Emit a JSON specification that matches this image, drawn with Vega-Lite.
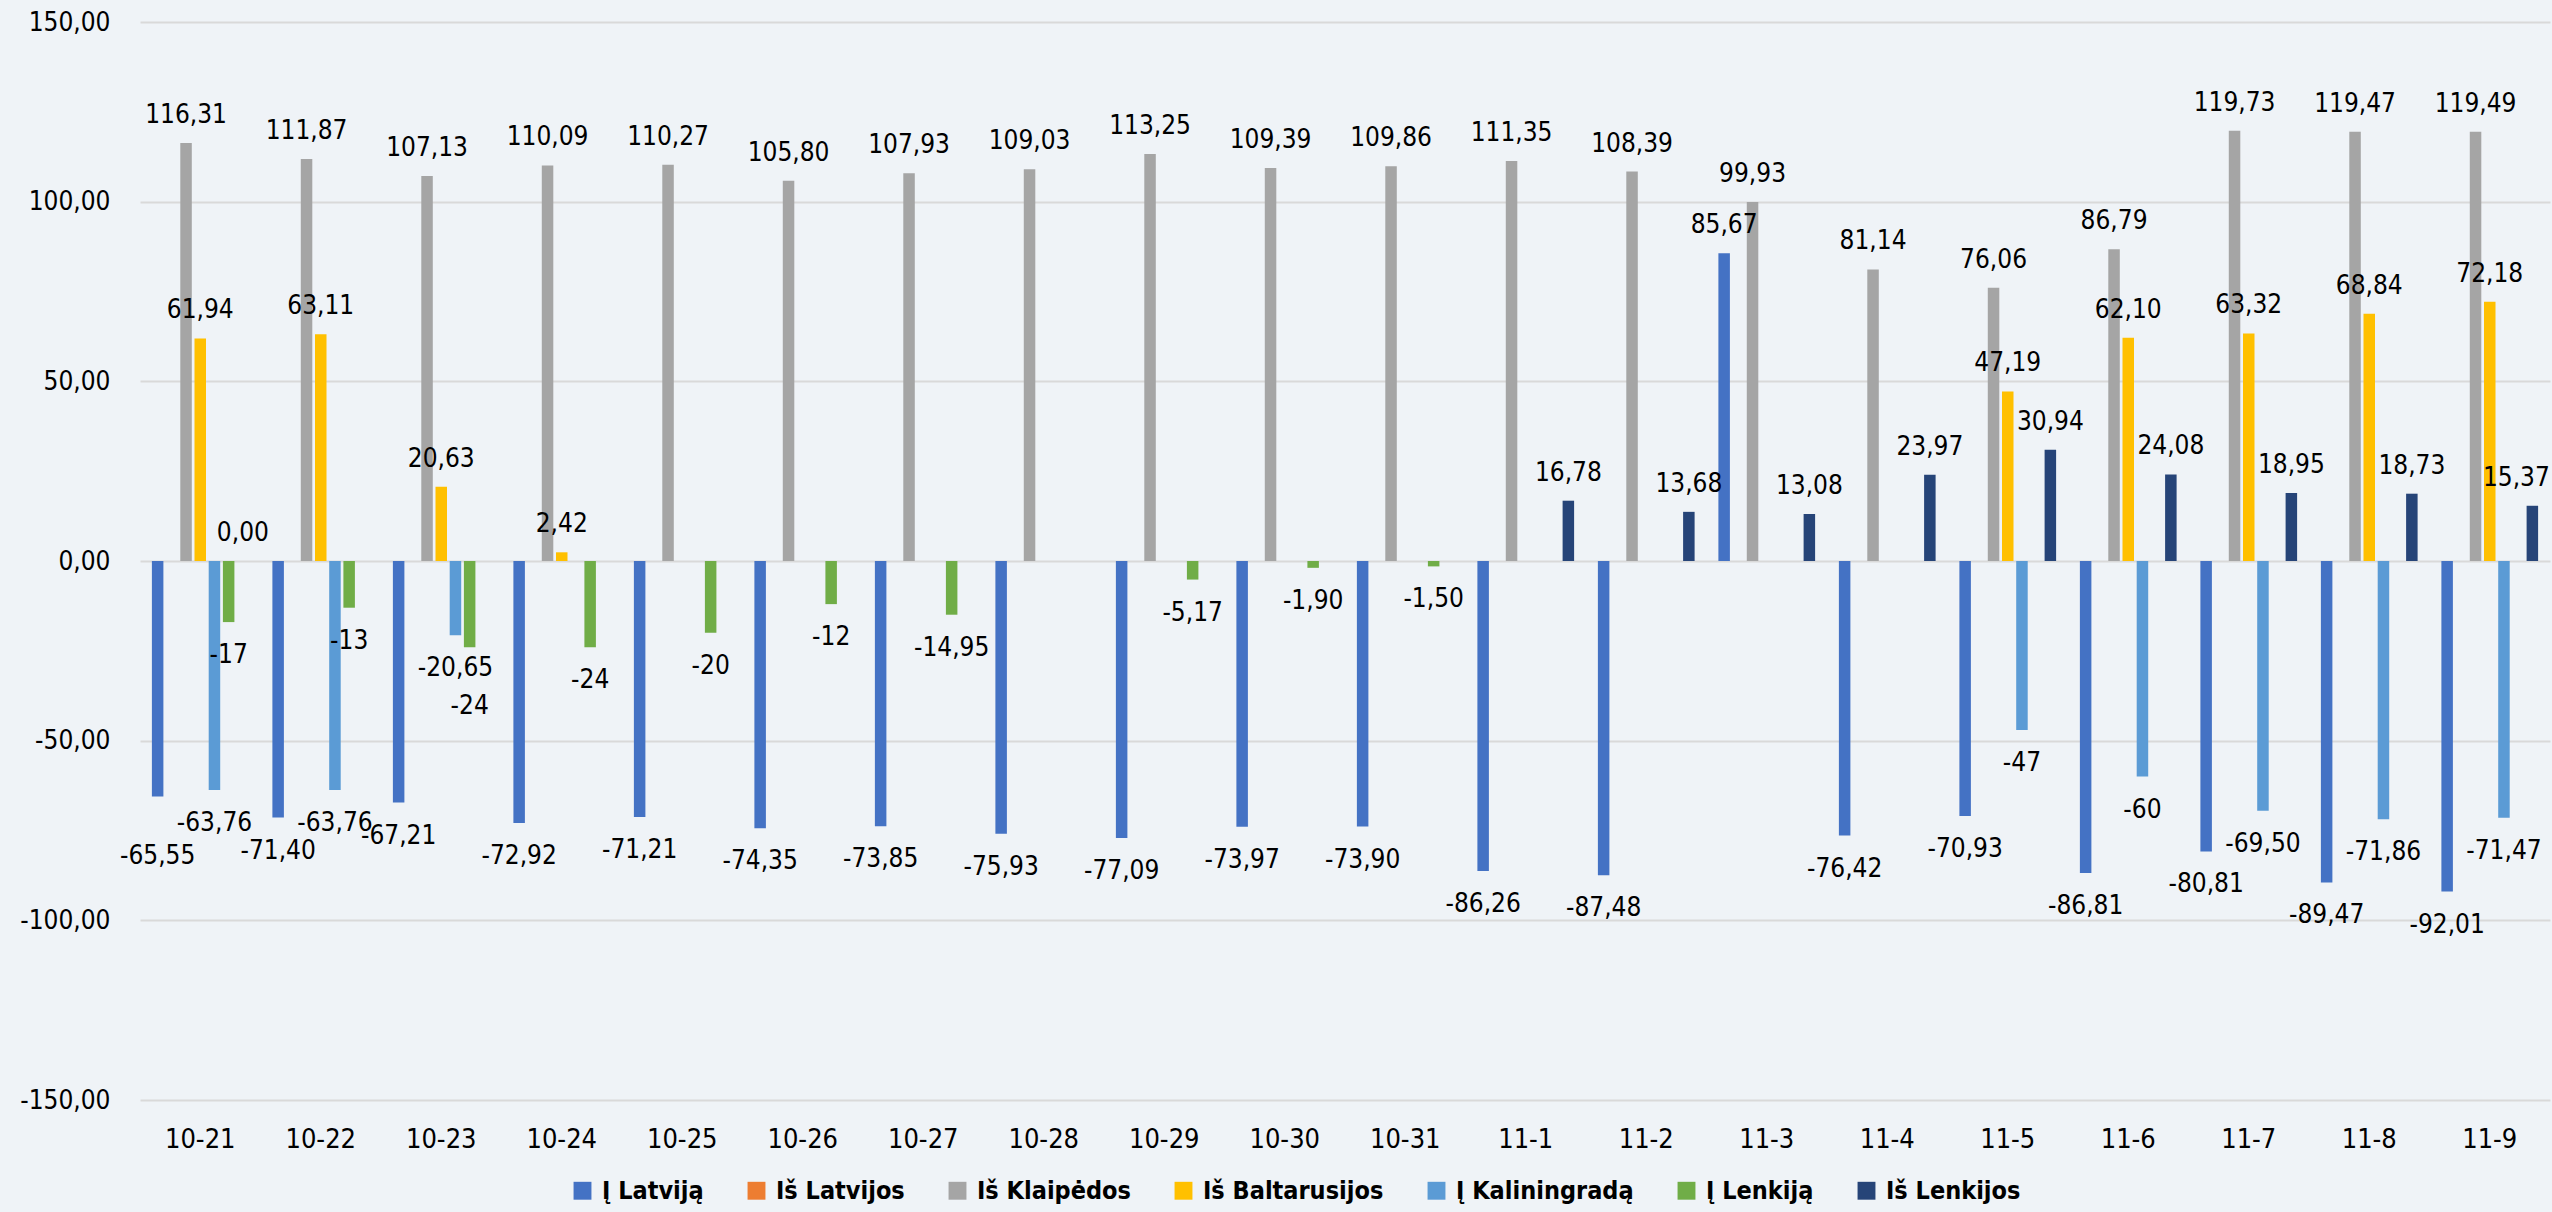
{
  "$schema": "https://vega.github.io/schema/vega-lite/v6.json",
  "autosize": "none",
  "width": 2410,
  "height": 1078,
  "padding": {"left": 140, "top": 22, "right": 2, "bottom": 112},
  "background": "#EFF3F7",
  "config": {
    "view": {"stroke": null},
    "locale": {"number": {"decimal": ",", "thousands": " ", "grouping": [3], "currency": ["", ""], "minus": "-"}},
    "font": "Liberation Sans Narrow, DejaVu Sans Condensed, DejaVu Sans",
    "axis": {"labelFont": "Liberation Sans Narrow, DejaVu Sans Condensed, DejaVu Sans", "labelColor": "#000000"},
    "legend": {"labelFont": "Liberation Sans Narrow, DejaVu Sans Condensed, DejaVu Sans"}
  },
  "data": {"values": [
    {"d": "10-21", "s": "Į Latviją", "v": -65.55, "t": "-65,55"},
    {"d": "10-21", "s": "Iš Klaipėdos", "v": 116.31, "t": "116,31"},
    {"d": "10-21", "s": "Iš Baltarusijos", "v": 61.94, "t": "61,94"},
    {"d": "10-21", "s": "Į Kaliningradą", "v": -63.76, "t": "-63,76"},
    {"d": "10-21", "s": "Į Lenkiją", "v": -17, "t": "-17"},
    {"d": "10-21", "s": "Iš Lenkijos", "v": 0, "t": "0,00"},
    {"d": "10-22", "s": "Į Latviją", "v": -71.40, "t": "-71,40"},
    {"d": "10-22", "s": "Iš Klaipėdos", "v": 111.87, "t": "111,87"},
    {"d": "10-22", "s": "Iš Baltarusijos", "v": 63.11, "t": "63,11"},
    {"d": "10-22", "s": "Į Kaliningradą", "v": -63.76, "t": "-63,76"},
    {"d": "10-22", "s": "Į Lenkiją", "v": -13, "t": "-13"},
    {"d": "10-23", "s": "Į Latviją", "v": -67.21, "t": "-67,21"},
    {"d": "10-23", "s": "Iš Klaipėdos", "v": 107.13, "t": "107,13"},
    {"d": "10-23", "s": "Iš Baltarusijos", "v": 20.63, "t": "20,63"},
    {"d": "10-23", "s": "Į Kaliningradą", "v": -20.65, "t": "-20,65"},
    {"d": "10-23", "s": "Į Lenkiją", "v": -24, "t": "-24"},
    {"d": "10-24", "s": "Į Latviją", "v": -72.92, "t": "-72,92"},
    {"d": "10-24", "s": "Iš Klaipėdos", "v": 110.09, "t": "110,09"},
    {"d": "10-24", "s": "Iš Baltarusijos", "v": 2.42, "t": "2,42"},
    {"d": "10-24", "s": "Į Lenkiją", "v": -24, "t": "-24"},
    {"d": "10-25", "s": "Į Latviją", "v": -71.21, "t": "-71,21"},
    {"d": "10-25", "s": "Iš Klaipėdos", "v": 110.27, "t": "110,27"},
    {"d": "10-25", "s": "Į Lenkiją", "v": -20, "t": "-20"},
    {"d": "10-26", "s": "Į Latviją", "v": -74.35, "t": "-74,35"},
    {"d": "10-26", "s": "Iš Klaipėdos", "v": 105.80, "t": "105,80"},
    {"d": "10-26", "s": "Į Lenkiją", "v": -12, "t": "-12"},
    {"d": "10-27", "s": "Į Latviją", "v": -73.85, "t": "-73,85"},
    {"d": "10-27", "s": "Iš Klaipėdos", "v": 107.93, "t": "107,93"},
    {"d": "10-27", "s": "Į Lenkiją", "v": -14.95, "t": "-14,95"},
    {"d": "10-28", "s": "Į Latviją", "v": -75.93, "t": "-75,93"},
    {"d": "10-28", "s": "Iš Klaipėdos", "v": 109.03, "t": "109,03"},
    {"d": "10-29", "s": "Į Latviją", "v": -77.09, "t": "-77,09"},
    {"d": "10-29", "s": "Iš Klaipėdos", "v": 113.25, "t": "113,25"},
    {"d": "10-29", "s": "Į Lenkiją", "v": -5.17, "t": "-5,17"},
    {"d": "10-30", "s": "Į Latviją", "v": -73.97, "t": "-73,97"},
    {"d": "10-30", "s": "Iš Klaipėdos", "v": 109.39, "t": "109,39"},
    {"d": "10-30", "s": "Į Lenkiją", "v": -1.90, "t": "-1,90"},
    {"d": "10-31", "s": "Į Latviją", "v": -73.90, "t": "-73,90"},
    {"d": "10-31", "s": "Iš Klaipėdos", "v": 109.86, "t": "109,86"},
    {"d": "10-31", "s": "Į Lenkiją", "v": -1.50, "t": "-1,50"},
    {"d": "11-1", "s": "Į Latviją", "v": -86.26, "t": "-86,26"},
    {"d": "11-1", "s": "Iš Klaipėdos", "v": 111.35, "t": "111,35"},
    {"d": "11-1", "s": "Iš Lenkijos", "v": 16.78, "t": "16,78"},
    {"d": "11-2", "s": "Į Latviją", "v": -87.48, "t": "-87,48"},
    {"d": "11-2", "s": "Iš Klaipėdos", "v": 108.39, "t": "108,39"},
    {"d": "11-2", "s": "Iš Lenkijos", "v": 13.68, "t": "13,68"},
    {"d": "11-3", "s": "Į Latviją", "v": 85.67, "t": "85,67"},
    {"d": "11-3", "s": "Iš Klaipėdos", "v": 99.93, "t": "99,93"},
    {"d": "11-3", "s": "Iš Lenkijos", "v": 13.08, "t": "13,08"},
    {"d": "11-4", "s": "Į Latviją", "v": -76.42, "t": "-76,42"},
    {"d": "11-4", "s": "Iš Klaipėdos", "v": 81.14, "t": "81,14"},
    {"d": "11-4", "s": "Iš Lenkijos", "v": 23.97, "t": "23,97"},
    {"d": "11-5", "s": "Į Latviją", "v": -70.93, "t": "-70,93"},
    {"d": "11-5", "s": "Iš Klaipėdos", "v": 76.06, "t": "76,06"},
    {"d": "11-5", "s": "Iš Baltarusijos", "v": 47.19, "t": "47,19"},
    {"d": "11-5", "s": "Į Kaliningradą", "v": -47, "t": "-47"},
    {"d": "11-5", "s": "Iš Lenkijos", "v": 30.94, "t": "30,94"},
    {"d": "11-6", "s": "Į Latviją", "v": -86.81, "t": "-86,81"},
    {"d": "11-6", "s": "Iš Klaipėdos", "v": 86.79, "t": "86,79"},
    {"d": "11-6", "s": "Iš Baltarusijos", "v": 62.10, "t": "62,10"},
    {"d": "11-6", "s": "Į Kaliningradą", "v": -60, "t": "-60"},
    {"d": "11-6", "s": "Iš Lenkijos", "v": 24.08, "t": "24,08"},
    {"d": "11-7", "s": "Į Latviją", "v": -80.81, "t": "-80,81"},
    {"d": "11-7", "s": "Iš Klaipėdos", "v": 119.73, "t": "119,73"},
    {"d": "11-7", "s": "Iš Baltarusijos", "v": 63.32, "t": "63,32"},
    {"d": "11-7", "s": "Į Kaliningradą", "v": -69.50, "t": "-69,50"},
    {"d": "11-7", "s": "Iš Lenkijos", "v": 18.95, "t": "18,95"},
    {"d": "11-8", "s": "Į Latviją", "v": -89.47, "t": "-89,47"},
    {"d": "11-8", "s": "Iš Klaipėdos", "v": 119.47, "t": "119,47"},
    {"d": "11-8", "s": "Iš Baltarusijos", "v": 68.84, "t": "68,84"},
    {"d": "11-8", "s": "Į Kaliningradą", "v": -71.86, "t": "-71,86"},
    {"d": "11-8", "s": "Iš Lenkijos", "v": 18.73, "t": "18,73"},
    {"d": "11-9", "s": "Į Latviją", "v": -92.01, "t": "-92,01"},
    {"d": "11-9", "s": "Iš Klaipėdos", "v": 119.49, "t": "119,49"},
    {"d": "11-9", "s": "Iš Baltarusijos", "v": 72.18, "t": "72,18"},
    {"d": "11-9", "s": "Į Kaliningradą", "v": -71.47, "t": "-71,47"},
    {"d": "11-9", "s": "Iš Lenkijos", "v": 15.37, "t": "15,37"}
  ]},
  "encoding": {
    "x": {
      "field": "d", "type": "nominal", "sort": null, "title": null,
      "scale": {"paddingInner": 0.175, "paddingOuter": 0.0875},
      "axis": {"labelAngle": 0, "ticks": false, "domain": false, "grid": false, "labelFontSize": 27, "labelPadding": 26}
    },
    "xOffset": {
      "field": "s", "type": "nominal",
      "scale": {"domain": ["Į Latviją", "Iš Latvijos", "Iš Klaipėdos", "Iš Baltarusijos", "Į Kaliningradą", "Į Lenkiją", "Iš Lenkijos"], "paddingInner": 0.19, "paddingOuter": 0.095}
    },
    "y": {
      "field": "v", "type": "quantitative", "title": null,
      "scale": {"domain": [-150, 150], "nice": false, "zero": true},
      "axis": {"values": [-150, -100, -50, 0, 50, 100, 150], "format": ".2f", "ticks": false, "domain": false, "grid": true, "gridColor": "#D9D9D9", "gridWidth": 2, "labelFontSize": 26, "labelPadding": 30}
    }
  },
  "layer": [
    {
      "mark": {"type": "bar"},
      "encoding": {
        "color": {
          "field": "s", "type": "nominal", "title": null,
          "scale": {"domain": ["Į Latviją", "Iš Latvijos", "Iš Klaipėdos", "Iš Baltarusijos", "Į Kaliningradą", "Į Lenkiją", "Iš Lenkijos"],
                    "range": ["#4472C4", "#ED7D31", "#A5A5A5", "#FFC000", "#5B9BD5", "#70AD47", "#264478"]},
          "legend": {"orient": "none", "legendX": 430, "legendY": 1156, "direction": "horizontal", "symbolType": "square", "symbolSize": 320, "symbolStrokeWidth": 0, "labelFontSize": 25, "labelFontWeight": "bold", "labelLimit": 600, "columnPadding": 40, "labelOffset": 7}
        }
      }
    },
    {
      "transform": [{"filter": "datum.v >= 0 && !(datum.d == '11-9' && datum.s == 'Iš Lenkijos')"}],
      "mark": {"type": "text", "baseline": "alphabetic", "dy": -20, "fontSize": 26, "color": "#000000"},
      "encoding": {"text": {"field": "t"}}
    },
    {
      "transform": [{"filter": "datum.d == '11-9' && datum.s == 'Iš Lenkijos'"}],
      "mark": {"type": "text", "baseline": "alphabetic", "dy": -20, "dx": -16, "fontSize": 26, "color": "#000000"},
      "encoding": {"text": {"field": "t"}}
    },
    {
      "transform": [{"filter": "datum.v < 0 && !(datum.d == '10-21' && datum.s == 'Į Latviją') && !(datum.d == '10-23' && datum.s == 'Į Lenkiją')"}],
      "mark": {"type": "text", "baseline": "top", "dy": 20, "fontSize": 26, "color": "#000000"},
      "encoding": {"text": {"field": "t"}}
    },
    {
      "transform": [{"filter": "(datum.d == '10-21' && datum.s == 'Į Latviją') || (datum.d == '10-23' && datum.s == 'Į Lenkiją')"}],
      "mark": {"type": "text", "baseline": "top", "dy": 46, "fontSize": 26, "color": "#000000"},
      "encoding": {"text": {"field": "t"}}
    }
  ]
}
